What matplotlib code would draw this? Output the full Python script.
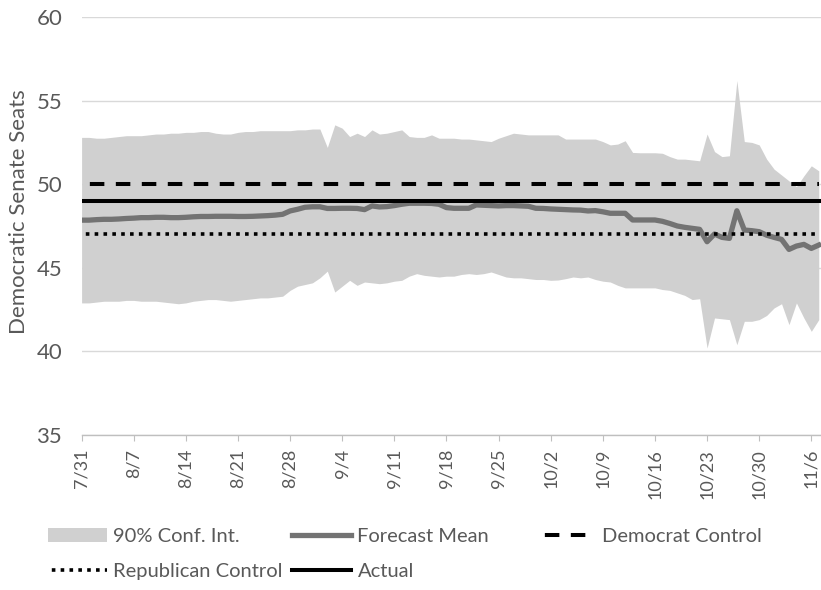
import numpy as np
import matplotlib.pyplot as plt
from matplotlib.patches import Patch
from matplotlib.lines import Line2D

plt.rcParams['font.family'] = ['Lato', 'DejaVu Sans']

# weekly tick labels, one tick every 7 days starting 7/31
tick_labels = ['7/31', '8/7', '8/14', '8/21', '8/28', '9/4', '9/11', '9/18',
               '9/25', '10/2', '10/9', '10/16', '10/23', '10/30', '11/6']

# daily values, 7/31 .. 11/7
upper_90 = [52.8, 52.8, 52.75, 52.75, 52.8, 52.85, 52.9, 52.9, 52.9, 52.95,
            53.0, 53.0, 53.05, 53.05, 53.1, 53.1, 53.15, 53.15, 53.05, 53.0,
            53.0, 53.1, 53.15, 53.15, 53.2, 53.2, 53.2, 53.2, 53.2, 53.25,
            53.25, 53.3, 53.3, 52.2, 53.55, 53.35, 52.85, 53.05, 52.85, 53.25,
            53.0, 53.05, 53.15, 53.25, 52.85, 52.8, 52.8, 52.95, 52.75, 52.75,
            52.75, 52.7, 52.7, 52.65, 52.6, 52.55, 52.75, 52.9, 53.05, 53.0,
            52.95, 52.95, 52.95, 52.95, 52.95, 52.7, 52.7, 52.7, 52.7, 52.7,
            52.55, 52.35, 52.4, 52.6, 51.9, 51.88, 51.88, 51.88, 51.85, 51.65,
            51.5, 51.5, 51.45, 51.4, 53.0, 51.95, 51.65, 51.7, 56.2, 52.55,
            52.5, 52.35, 51.5, 50.9, 50.55, 50.2, 49.85, 50.5, 51.1, 50.8]

lower_90 = [42.9, 42.9, 42.95, 43.0, 43.0, 43.0, 43.05, 43.05, 43.0, 43.0,
            43.0, 42.95, 42.9, 42.85, 42.9, 43.0, 43.05, 43.1, 43.1, 43.05,
            43.0, 43.05, 43.1, 43.15, 43.2, 43.2, 43.25, 43.3, 43.65, 43.9,
            44.0, 44.1, 44.4, 44.8, 43.55, 43.9, 44.25, 43.95, 44.15, 44.1,
            44.05, 44.1, 44.2, 44.25, 44.5, 44.65, 44.55, 44.5, 44.45, 44.5,
            44.5, 44.6, 44.65, 44.6, 44.65, 44.75, 44.6, 44.45, 44.4, 44.4,
            44.35, 44.3, 44.3, 44.25, 44.27, 44.35, 44.45, 44.4, 44.45, 44.3,
            44.2, 44.15, 43.95, 43.8, 43.8, 43.8, 43.8, 43.8, 43.7, 43.65,
            43.5, 43.35, 43.1, 43.15, 40.2, 42.0, 41.95, 41.9, 40.4, 41.8,
            41.8, 41.9, 42.15, 42.6, 42.85, 41.6, 42.9, 42.0, 41.2, 41.9]

forecast_mean = [47.85, 47.85, 47.88, 47.9, 47.9, 47.92, 47.95, 47.97, 48.0, 48.0,
                 48.02, 48.02, 48.0, 48.0, 48.02, 48.05, 48.07, 48.07, 48.08, 48.08,
                 48.08, 48.07, 48.07, 48.08, 48.1, 48.12, 48.15, 48.2, 48.4, 48.5,
                 48.62, 48.65, 48.65, 48.55, 48.55, 48.56, 48.56, 48.55, 48.48, 48.7,
                 48.64, 48.66, 48.72, 48.8, 48.86, 48.86, 48.86, 48.85, 48.8, 48.6,
                 48.56, 48.56, 48.56, 48.76, 48.74, 48.72, 48.7, 48.72, 48.72, 48.7,
                 48.68, 48.56, 48.55, 48.52, 48.5, 48.48, 48.46, 48.45, 48.4, 48.42,
                 48.35, 48.26, 48.26, 48.26, 47.86, 47.86, 47.86, 47.86, 47.78, 47.65,
                 47.5, 47.42, 47.36, 47.3, 46.56, 47.02, 46.82, 46.76, 48.41, 47.26,
                 47.22, 47.16, 46.95, 46.82, 46.7, 46.1, 46.3, 46.4, 46.16, 46.36]

democrat_control = 50
republican_control = 47
actual_seats = 49

days = np.arange(len(forecast_mean))
n = len(days)

fill_col = '#d0d0d0'
mean_col = '#737373'
text_col = '#595959'

fig = plt.figure(figsize=(8.21, 5.90), dpi=100)
ax = fig.add_axes([81.6 / 821, 1 - 435 / 590, 1 - 81.6 / 821, 418 / 590])

ax.fill_between(days, lower_90, upper_90, color=fill_col, lw=0, zorder=2)
ax.plot(days, forecast_mean, color=mean_col, lw=3.8, zorder=3,
        solid_joinstyle='round')

dash_ls = (4.5, (3.6, 2.85))
dot_ls = (1.4, (1.0, 1.45))
ax.plot(days, np.full(n, democrat_control), color='black', lw=2.9, ls=dash_ls, zorder=4)
ax.plot(days, np.full(n, republican_control), color='black', lw=2.6, ls=dot_ls, zorder=4)
ax.plot(days, np.full(n, actual_seats), color='black', lw=2.9, zorder=4)

ax.set_xlim(0, 99.3)
ax.set_ylim(35, 60)
ax.set_yticks([35, 40, 45, 50, 55, 60])
ax.set_xticks(np.arange(0, 7 * len(tick_labels), 7))
ax.set_xticklabels(tick_labels, rotation=90)

ax.yaxis.grid(True, color='#d9d9d9', lw=1.0)
ax.set_axisbelow(True)
for s in ['left', 'right', 'top']:
    ax.spines[s].set_visible(False)
ax.spines['bottom'].set_color('#bfbfbf')
ax.spines['bottom'].set_linewidth(1.0)

ax.tick_params(axis='x', length=4, width=0.8, color='#bfbfbf', pad=6,
               labelsize=13, labelcolor=text_col)
ax.tick_params(axis='y', length=0, pad=14, labelsize=16, labelcolor=text_col)

ax.set_ylabel('Democratic Senate Seats', fontsize=16, color=text_col)
ax.yaxis.set_label_coords(-0.071, 0.535)

# legend in three columns like the original
conf_h = Patch(facecolor=fill_col, edgecolor='none')
mean_h = Line2D([], [], color=mean_col, lw=3.8)
dem_h = Line2D([], [], color='black', lw=2.9, ls=dash_ls)
rep_h = Line2D([], [], color='black', lw=2.6, ls=dot_ls)
act_h = Line2D([], [], color='black', lw=2.9)

leg_kw = dict(loc='upper left', frameon=False, fontsize=14.5, labelcolor=text_col,
              handlelength=2.95, handletextpad=0.3, borderpad=0, borderaxespad=0,
              labelspacing=0.9)
fig.legend([conf_h, rep_h], ['90% Conf. Int.', 'Republican Control'],
           bbox_to_anchor=(48 / 821, 1 - 528 / 590), **leg_kw)
fig.legend([mean_h, act_h], ['Forecast Mean', 'Actual'],
           bbox_to_anchor=(292 / 821, 1 - 528 / 590), **leg_kw)
fig.legend([dem_h], ['Democrat Control'],
           bbox_to_anchor=(537 / 821, 1 - 528 / 590), **leg_kw)

fig.savefig('out.png', dpi=100)
